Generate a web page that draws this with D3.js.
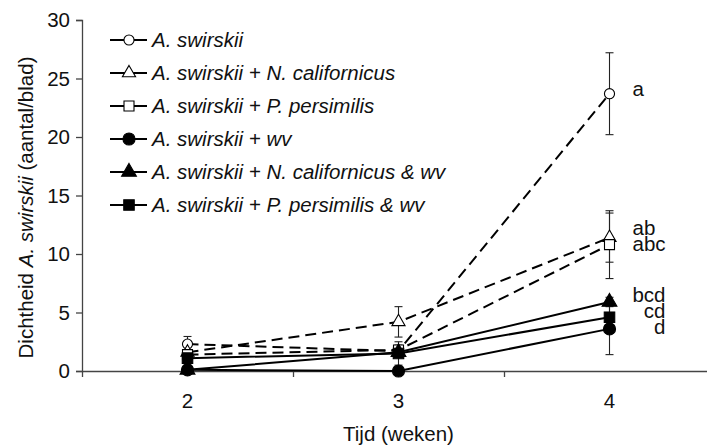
<!DOCTYPE html>
<html>
<head>
<meta charset="utf-8">
<script src="https://cdn.jsdelivr.net/npm/d3@7"></script>
<style>
  html, body { margin: 0; padding: 0; background: #fff; }
  svg { display: block; font-family: "Liberation Sans", Arial, sans-serif; }
</style>
</head>
<body>
<svg id="chart" width="707" height="447"></svg>
<script>
// Weeks sampled
const weeks = [2, 3, 4];

// Treatment names (legend labels)
const seriesNames = [
  "A. swirskii",
  "A. swirskii + N. californicus",
  "A. swirskii + P. persimilis",
  "A. swirskii + wv",
  "A. swirskii + N. californicus & wv",
  "A. swirskii + P. persimilis & wv"
];

// Mean density per leaf for each week
const meanSwirskii        = [2.3, 1.7, 23.7];
const meanCalifornicus    = [1.6, 4.2, 11.4];
const meanPersimilis      = [1.4, 1.8, 10.8];
const meanWv              = [0.1, 0.0, 3.6];
const meanCalifornicusWv  = [0.1, 1.6, 5.9];
const meanPersimilisWv    = [1.1, 1.5, 4.6];

// Standard errors per week
const errSwirskii         = [0.65, 0.5, 3.5];
const errCalifornicus     = [0.5, 1.3, 2.1];
const errPersimilis       = [0.4, 0.4, 2.9];
const errWv               = [0.1, 0.0, 2.2];
const errCalifornicusWv   = [0.2, 0.3, 0.4];
const errPersimilisWv     = [0.5, 1.0, 1.3];

// Significance letters at week 4
const sigLetters = ["a", "ab", "abc", "d", "bcd", "cd"];

// Axis tick values
const yTicks = [0, 5, 10, 15, 20, 25, 30];
const xTickLabels = ["2", "3", "4"];

const means = [meanSwirskii, meanCalifornicus, meanPersimilis, meanWv, meanCalifornicusWv, meanPersimilisWv];
const errs  = [errSwirskii, errCalifornicus, errPersimilis, errWv, errCalifornicusWv, errPersimilisWv];

// marker style per series: open markers with dashed lines, filled markers with solid lines
const shapes = [d3.symbolCircle, d3.symbolTriangle, d3.symbolSquare, d3.symbolCircle, d3.symbolTriangle, d3.symbolSquare];
const symSizes = [80, 75, 100, 115, 95, 110];
const filled = [false, false, false, true, true, true];

const series = seriesNames.map((name, i) => ({
  name, i,
  points: weeks.map((w, j) => ({ w, v: means[i][j], e: errs[i][j] }))
}));

const svg = d3.select("#chart");
const FS = 20.5;

const x = d3.scaleLinear().domain([1.5, 4.5]).range([82, 715]);
const y = d3.scaleLinear().domain([0, 30]).range([371, 20]);

// Y axis
const yAxis = svg.append("g").attr("transform", `translate(${x(1.5)},0)`)
  .call(d3.axisLeft(y).tickValues(yTicks).tickSize(6).tickPadding(6));
yAxis.select(".domain").attr("stroke", "#444").attr("stroke-width", 1.3);
yAxis.selectAll(".tick line").attr("stroke", "#444").attr("stroke-width", 1.3);
yAxis.selectAll(".tick text").attr("font-size", FS).attr("fill", "#111")
  .attr("font-family", "Liberation Sans, Arial, sans-serif");

// X axis: category style, ticks between weeks
const xAxis = svg.append("g").attr("transform", `translate(0,${y(0)})`)
  .call(d3.axisBottom(x).tickValues([1.5, 2.5, 3.5, 4.5]).tickSize(6).tickSizeOuter(0).tickFormat(""));
xAxis.select(".domain").attr("stroke", "#444").attr("stroke-width", 1.3);
xAxis.selectAll(".tick line").attr("stroke", "#444").attr("stroke-width", 1.3);

svg.append("g").selectAll("text").data(weeks).join("text")
  .attr("x", d => x(d)).attr("y", y(0) + 37)
  .attr("text-anchor", "middle").attr("font-size", FS).attr("fill", "#111")
  .text((d, i) => xTickLabels[i]);

// Axis titles
svg.append("text")
  .attr("x", x(3)).attr("y", 441)
  .attr("text-anchor", "middle").attr("font-size", FS).attr("fill", "#111")
  .text("Tijd (weken)");

const yt = svg.append("text")
  .attr("transform", `translate(33,${(y(0) + y(30)) / 2 + 12}) rotate(-90)`)
  .attr("text-anchor", "middle").attr("font-size", FS).attr("fill", "#111");
yt.append("tspan").text("Dichtheid ");
yt.append("tspan").attr("font-style", "italic").text("A. swirskii");
yt.append("tspan").text(" (aantal/blad)");

// Lines
const line = d3.line().x(d => x(d.w)).y(d => y(d.v));
svg.append("g").selectAll("path").data(series).join("path")
  .attr("d", d => line(d.points))
  .attr("fill", "none").attr("stroke", "#000").attr("stroke-width", 2)
  .attr("stroke-dasharray", d => filled[d.i] ? null : "11,6");

// Error bars
const eb = svg.append("g").attr("stroke", "#222").attr("stroke-width", 1.1);
series.forEach(s => {
  s.points.forEach(p => {
    if (p.e <= 0) return;
    const cx = x(p.w), y1 = y(p.v + p.e), y2 = y(Math.max(0, p.v - p.e));
    eb.append("line").attr("x1", cx).attr("x2", cx).attr("y1", y1).attr("y2", y2);
    eb.append("line").attr("x1", cx - 4).attr("x2", cx + 4).attr("y1", y1).attr("y2", y1);
    if (p.v - p.e > 0) eb.append("line").attr("x1", cx - 4).attr("x2", cx + 4).attr("y1", y2).attr("y2", y2);
  });
});

// Markers
const sym = i => d3.symbol().type(shapes[i]).size(symSizes[i])();
series.forEach(s => {
  svg.append("g").selectAll("path").data(s.points).join("path")
    .attr("transform", p => `translate(${x(p.w)},${y(p.v)})`)
    .attr("d", sym(s.i))
    .attr("fill", filled[s.i] ? "#000" : "#fff")
    .attr("stroke", "#000").attr("stroke-width", 1.1);
});

// Significance letters at week 4, spread vertically to avoid overlap
const lastIdx = weeks.length - 1;
const lab = series.map(s => ({ i: s.i, pos: y(s.points[lastIdx].v), letter: sigLetters[s.i] }))
  .sort((a, b) => a.pos - b.pos);
const gap = 16;
for (let iter = 0; iter < 50; iter++) {
  for (let k = 1; k < lab.length; k++) {
    const d = lab[k].pos - lab[k - 1].pos;
    if (d < gap) {
      const shift = (gap - d) / 2;
      lab[k].pos += shift; lab[k - 1].pos -= shift;
    }
  }
}
svg.append("g").selectAll("text").data(lab).join("text")
  .attr("x", d => d.i < 3 ? x(4) + 23 : x(4) + 56)
  .attr("y", d => d.pos + 2)
  .attr("text-anchor", d => d.i < 3 ? "start" : "end")
  .attr("font-size", FS).attr("fill", "#111")
  .text(d => d.letter);

// Legend
const legY0 = 40, legStep = 33;
const leg = svg.append("g");
series.forEach(s => {
  const ly = legY0 + s.i * legStep;
  leg.append("line").attr("x1", 110).attr("x2", 147).attr("y1", ly).attr("y2", ly)
    .attr("stroke", "#000").attr("stroke-width", 2);
  leg.append("path").attr("transform", `translate(129,${ly})`).attr("d", sym(s.i))
    .attr("fill", filled[s.i] ? "#000" : "#fff").attr("stroke", "#000").attr("stroke-width", 1.1);
  leg.append("text").attr("x", 152).attr("y", ly + 7)
    .attr("font-size", FS).attr("font-style", "italic").attr("fill", "#111")
    .text(s.name);
});
</script>
</body>
</html>
